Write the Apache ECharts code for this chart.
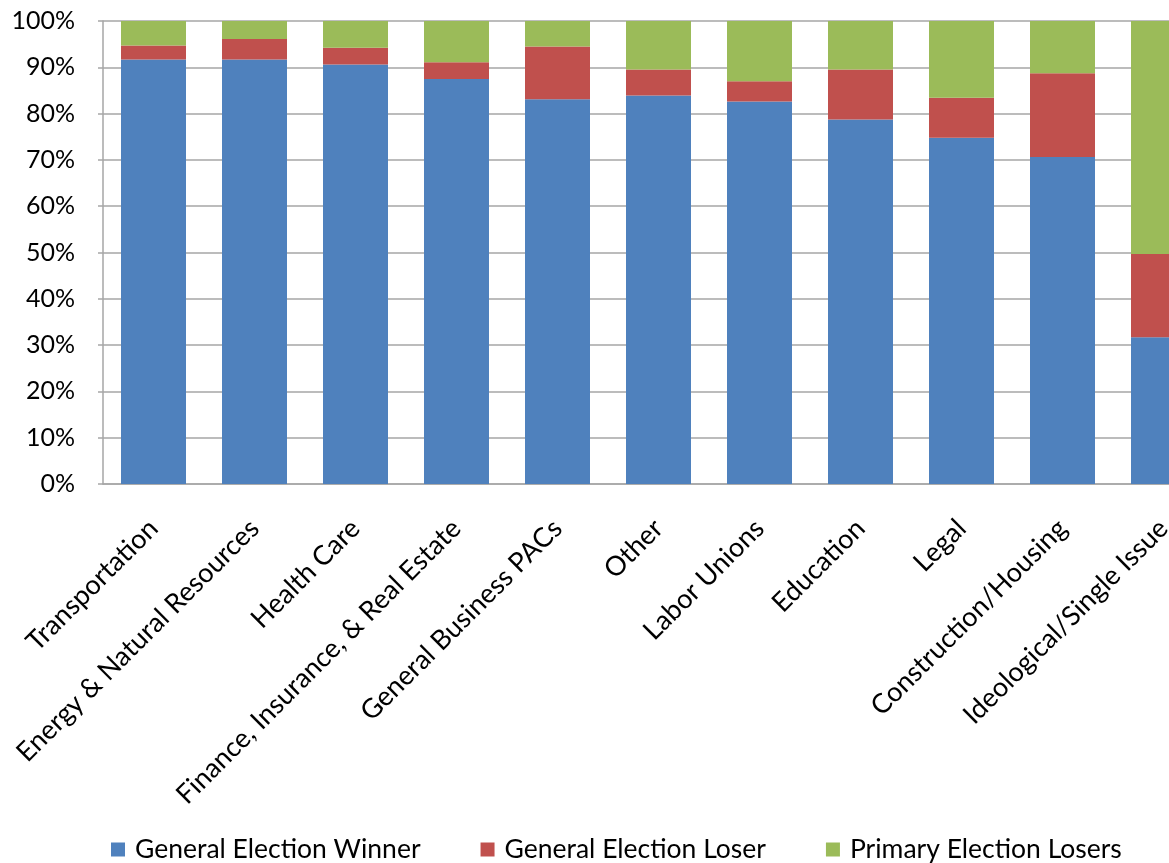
<!DOCTYPE html>
<html>
<head>
<meta charset="utf-8">
<script src="https://cdn.jsdelivr.net/npm/echarts@6/dist/echarts.min.js"></script>
<style>
  html, body { margin: 0; padding: 0; background: #fff; overflow: hidden; }
  /* the chart is wider than the window: its right edge runs past the frame */
  #chart { width: 1220px; height: 863px; }
</style>
</head>
<body>
<div id="chart"></div>
<script>
// PAC contributions by sector, split by the fate of the recipient (percent of total)
const categories = [
  'Transportation',
  'Energy & Natural Resources',
  'Health Care',
  'Finance, Insurance, & Real Estate',
  'General Business PACs',
  'Other',
  'Labor Unions',
  'Education',
  'Legal',
  'Construction/Housing',
  'Ideological/Single Issue'
];
const generalWinner  = [91.7, 91.7, 90.6, 87.5, 83.1, 83.9, 82.6, 78.7, 74.8, 70.6, 31.7];
const generalLoser   = [3.0, 4.4, 3.6, 3.6, 11.4, 5.6, 4.4, 10.8, 8.6, 18.1, 18.0];
const primaryLosers  = [5.3, 3.9, 5.8, 8.9, 5.5, 10.5, 13.0, 10.5, 16.6, 11.3, 50.3];
const seriesNames = ['General Election Winner', 'General Election Loser', 'Primary Election Losers'];
const seriesColors = ['#4F81BD', '#C0504D', '#9BBB59'];

const FONT = 'Lato';
const chart = echarts.init(document.getElementById('chart'), null, { renderer: 'canvas' });

const seriesData = [generalWinner, generalLoser, primaryLosers];

chart.setOption({
  animation: false,
  backgroundColor: '#ffffff',
  textStyle: { fontFamily: FONT, color: '#000' },
  grid: { left: 103, top: 21, bottom: 379, right: 6, containLabel: false },
  legend: {
    left: 106,
    top: 831,
    itemWidth: 14,
    itemHeight: 14,
    itemGap: 60,
    icon: 'rect',
    textStyle: { fontFamily: FONT, fontSize: 26.5, color: '#000', padding: [0, 0, 0, 5] },
    data: seriesNames
  },
  xAxis: {
    type: 'category',
    data: categories,
    axisLine: { lineStyle: { color: '#A6A6A6', width: 1.5 } },
    axisTick: { show: false },
    axisLabel: {
      interval: 0,
      rotate: 45,
      margin: 40,
      fontFamily: FONT,
      fontSize: 27,
      color: '#000'
    }
  },
  yAxis: {
    type: 'value',
    min: 0,
    max: 100,
    interval: 10,
    axisLine: { show: true, lineStyle: { color: '#A6A6A6', width: 1.5 } },
    axisTick: { show: true, length: 5, lineStyle: { color: '#A6A6A6', width: 1.5 } },
    splitLine: { show: true, lineStyle: { color: '#A6A6A6', width: 1.5 } },
    axisLabel: {
      margin: 28,
      fontFamily: FONT,
      fontSize: 25,
      color: '#000',
      formatter: v => v + '%'
    }
  },
  series: seriesNames.map((name, i) => ({
    name,
    type: 'bar',
    stack: 'total',
    barWidth: 65,
    data: seriesData[i],
    itemStyle: { color: seriesColors[i] }
  }))
});
</script>
</body>
</html>
